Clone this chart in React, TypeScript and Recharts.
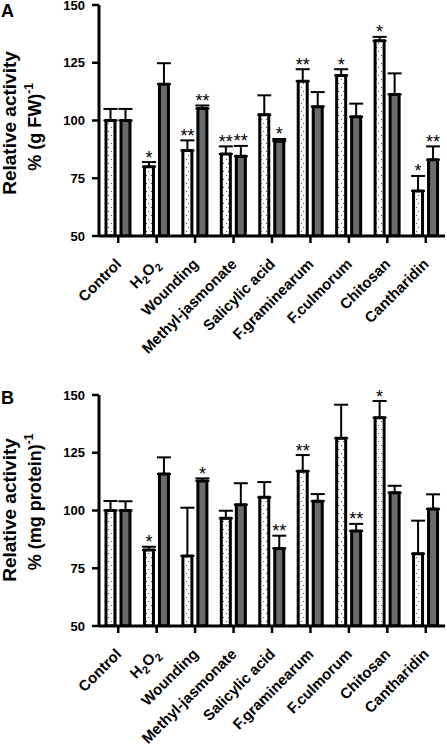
import React from 'react';
import { BarChart, Bar, XAxis, YAxis, ErrorBar, LabelList } from 'recharts';

const categories = [
  'Control',
  'H2O2',
  'Wounding',
  'Methyl-jasmonate',
  'Salicylic acid',
  'F.graminearum',
  'F.culmorum',
  'Chitosan',
  'Cantharidin',
];
const yTicks = [50, 75, 100, 125, 150];

// panel A: per g FW
const dottedA = [100, 80, 87, 85.5, 102.5, 117, 119.5, 134.5, 69.5];
const dottedErrA = [5, 2, 4.4, 3.3, 8.4, 5.2, 2.7, 1.7, 6.5];
const dottedSigA = ['', '*', '**', '**', '', '**', '*', '*', '*'];
const greyA = [100, 115.7, 105.2, 84.5, 91, 106, 101.6, 111.3, 83];
const greyErrA = [5, 9.1, 1.3, 4.5, 1, 6.3, 5.7, 9.1, 5.8];
const greySigA = ['', '', '**', '**', '*', '', '', '', '**'];

// panel B: per mg protein
const dottedB = [100, 82.9, 80.3, 96.6, 105.7, 117, 131.3, 140.2, 81.3];
const dottedErrB = [4.1, 1.4, 20.9, 3.3, 6.6, 7, 14.5, 7.2, 14.3];
const dottedSigB = ['', '*', '', '', '', '**', '', '*', ''];
const greyB = [100, 115.8, 112.8, 102.5, 83.6, 104, 91.1, 107.7, 100.6];
const greyErrB = [4, 7.2, 1.1, 9.3, 5.5, 3.1, 3.1, 3, 6.4];
const greySigB = ['', '', '*', '', '**', '', '**', '', ''];

const FONT = '"Liberation Sans", Arial, Helvetica, sans-serif';
const CHART_W = 447;
const CHART_H = 367;
const TOP_PAD = 15;
const PLOT_H = 231;
const Y_MIN = 50;
const Y_MAX = 150;

function buildRows(
  dotted: number[],
  dottedErr: number[],
  dottedSig: string[],
  grey: number[],
  greyErr: number[],
  greySig: string[]
) {
  return categories.map((name, i) => ({
    name,
    dotted: dotted[i],
    dottedErr: [0, dottedErr[i]],
    dottedSig: dottedSig[i],
    grey: grey[i],
    greyErr: [0, greyErr[i]],
    greySig: greySig[i],
  }));
}

// asterisks sit just above the error bar cap
const sigLabel = (errs: number[]) => (props: any) => {
  if (!props.value) return null;
  const vb = props.viewBox ?? props;
  const x = vb.x ?? props.x;
  const y = vb.y ?? props.y;
  const width = vb.width ?? props.width;
  const capY = y - errs[props.index] * (PLOT_H / (Y_MAX - Y_MIN));
  return (
    <text x={x + width / 2} y={capY + 1.5} textAnchor="middle" fontSize={18} fontFamily={FONT} fill="#000">
      {props.value}
    </text>
  );
};

const CategoryTick = (props: any) => {
  const { x, y, payload } = props;
  const label = payload.value;
  return (
    <g transform={`translate(${x + 4},${y + 20})`}>
      <text transform="rotate(-45)" textAnchor="end" fontSize={15} fontWeight="bold" fontFamily={FONT} fill="#000">
        {label === 'H2O2' ? (
          <>
            <tspan>H</tspan>
            <tspan dy={4} fontSize={11}>2</tspan>
            <tspan dy={-4}>O</tspan>
            <tspan dy={4} fontSize={11}>2</tspan>
          </>
        ) : (
          label
        )}
      </text>
    </g>
  );
};

function Panel({ rows, dottedErr, greyErr, top }: any) {
  return (
    <div style={{ position: 'absolute', left: 0, top: top - (TOP_PAD - 5) }}>
      <BarChart
        width={CHART_W}
        height={CHART_H}
        data={rows}
        margin={{ top: TOP_PAD, right: 2, bottom: 6, left: 0 }}
        barGap={6}
      >
        <XAxis
          dataKey="name"
          height={115}
          interval={0}
          tickSize={7}
          tickMargin={2}
          axisLine={{ stroke: '#000', strokeWidth: 3 }}
          tickLine={{ stroke: '#000', strokeWidth: 2.5 }}
          tick={<CategoryTick />}
        />
        <YAxis
          width={99}
          domain={[Y_MIN, Y_MAX]}
          ticks={yTicks}
          allowDataOverflow
          interval={0}
          tickSize={7}
          tickMargin={7}
          axisLine={{ stroke: '#000', strokeWidth: 3 }}
          tickLine={{ stroke: '#000', strokeWidth: 2.5 }}
          tick={{ fill: '#000', fontSize: 13, fontWeight: 'bold', fontFamily: FONT }}
        />
        <Bar dataKey="dotted" fill="url(#dots)" stroke="#000" strokeWidth={3} barSize={9} isAnimationActive={false}>
          <ErrorBar dataKey="dottedErr" width={7} strokeWidth={2} stroke="#000" direction="y" />
          <LabelList dataKey="dottedSig" content={sigLabel(dottedErr)} />
        </Bar>
        <Bar dataKey="grey" fill="#6b6b6b" stroke="#000" strokeWidth={3} barSize={9} isAnimationActive={false}>
          <ErrorBar dataKey="greyErr" width={7} strokeWidth={2} stroke="#000" direction="y" />
          <LabelList dataKey="greySig" content={sigLabel(greyErr)} />
        </Bar>
      </BarChart>
    </div>
  );
}

function YTitle({ cx1, cx2, cy1, cy2, unit }: any) {
  return (
    <>
      <text
        transform={`translate(${cx1},${cy1}) rotate(-90)`}
        textAnchor="middle"
        fontSize={19}
        fontWeight="bold"
        fontFamily={FONT}
        fill="#000"
      >
        Relative activity
      </text>
      <text
        transform={`translate(${cx2},${cy2}) rotate(-90)`}
        textAnchor="middle"
        fontSize={18}
        fontWeight="bold"
        fontFamily={FONT}
        fill="#000"
      >
        {unit}
        <tspan dy={-8} fontSize={12}>-1</tspan>
      </text>
    </>
  );
}

export default function App() {
  const rowsA = buildRows(dottedA, dottedErrA, dottedSigA, greyA, greyErrA, greySigA);
  const rowsB = buildRows(dottedB, dottedErrB, dottedSigB, greyB, greyErrB, greySigB);
  return (
    <div style={{ position: 'absolute', left: 0, top: 0, width: 447, height: 747, background: '#fff', overflow: 'hidden' }}>
      <svg width={0} height={0} style={{ position: 'absolute' }}>
        <defs>
          <pattern id="dots" patternUnits="userSpaceOnUse" width={5} height={8}>
            <rect x={0} y={0} width={5} height={8} fill="#fff" />
            <rect x={1} y={1} width={1} height={1} fill="#555" />
            <rect x={3} y={5} width={1} height={1} fill="#555" />
          </pattern>
        </defs>
      </svg>
      <Panel rows={rowsA} dottedErr={dottedErrA} greyErr={greyErrA} top={0} />
      <Panel rows={rowsB} dottedErr={dottedErrB} greyErr={greyErrB} top={390} />
      <svg
        width={447}
        height={747}
        style={{ position: 'absolute', left: 0, top: 0, pointerEvents: 'none' }}
      >
        <text x={1} y={17} fontSize={18} fontWeight="bold" fontFamily={FONT} fill="#000">A</text>
        <text x={1} y={404} fontSize={18} fontWeight="bold" fontFamily={FONT} fill="#000">B</text>
        <YTitle cx1={16} cy1={123} cx2={41} cy2={127} unit="% (g FW)" />
        <YTitle cx1={16} cy1={510} cx2={41} cy2={502} unit="% (mg protein)" />
      </svg>
    </div>
  );
}
